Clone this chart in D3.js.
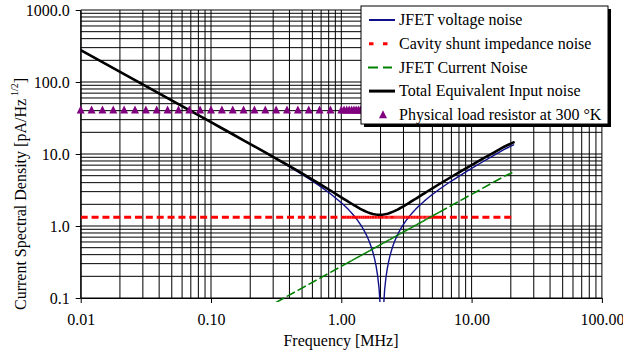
<!DOCTYPE html>
<html>
<head>
<meta charset="utf-8">
<script src="https://cdn.jsdelivr.net/npm/d3@7"></script>
<style>
  body { margin: 0; background: #fff; }
  svg { display: block; font-family: "Liberation Serif", "Times New Roman", serif; }
</style>
</head>
<body>
<svg id="chart" width="623" height="356"></svg>
<script>
// frequency points [MHz]
const freqMHz = [
  0.01, 0.01212, 0.01468, 0.01778, 0.02154, 0.0261, 0.03162, 0.03831, 0.04642, 0.05623, 0.06813, 0.08254,
  0.1, 0.1212, 0.1468, 0.1778, 0.2154, 0.261, 0.3162, 0.3831, 0.4642, 0.5623, 0.6813, 0.8254, 1.0,
  1.05, 1.1, 1.15, 1.2, 1.25, 1.3, 1.35, 1.4, 1.45, 1.5, 1.55, 1.6, 1.65, 1.7, 1.75, 1.8, 1.85, 1.9, 1.95, 2.0,
  2.05, 2.1, 2.15, 2.2, 2.25, 2.3, 2.35, 2.4, 2.45, 2.5, 2.55, 2.6, 2.65, 2.7, 2.75, 2.8, 2.85, 2.9, 2.95, 3.0,
  3.1, 3.2, 3.3, 3.4, 3.5, 3.6, 3.7, 3.8, 3.9, 4.0, 4.1, 4.2, 4.3, 4.4, 4.5, 4.6, 4.7, 4.8, 4.9, 5.0,
  5.62, 6.81, 8.25, 10, 12.1, 14.7, 17.8, 21
];

// JFET voltage noise (null = off scale, notch)
const jfetVoltage = [
  276.7, 228.3, 188.5, 155.6, 128.5, 106.0, 87.50, 72.21, 59.59, 49.18, 40.58, 33.48,
  27.61, 22.75, 18.76, 15.45, 12.71, 10.43, 8.544, 6.972, 5.656, 4.552, 3.613, 2.809, 2.109,
  1.944, 1.792, 1.649, 1.516, 1.391, 1.273, 1.161, 1.055, 0.954, 0.857, 0.765, 0.676, 0.591, 0.508, 0.429, 0.352, 0.278, 0.205, 0.135, 0.0667,
  null, 0.0651, 0.129, 0.191, 0.252, 0.311, 0.370, 0.427, 0.484, 0.539, 0.594, 0.648, 0.701, 0.753, 0.805, 0.856, 0.906, 0.955, 1.005, 1.053,
  1.149, 1.243, 1.335, 1.425, 1.514, 1.602, 1.689, 1.774, 1.859, 1.942, 2.025, 2.107, 2.188, 2.269, 2.348, 2.428, 2.506, 2.584, 2.662, 2.739,
  3.209, 4.078, 5.097, 6.309, 7.740, 9.492, 11.57, 13.4
];

// cavity shunt impedance noise
const cavityShunt = [
  1.32, 1.32, 1.32, 1.32, 1.32, 1.32, 1.32, 1.32, 1.32, 1.32, 1.32, 1.32,
  1.32, 1.32, 1.32, 1.32, 1.32, 1.32, 1.32, 1.32, 1.32, 1.32, 1.32, 1.32, 1.32,
  1.32, 1.32, 1.32, 1.32, 1.32, 1.32, 1.32, 1.32, 1.32, 1.32, 1.32, 1.32, 1.32, 1.32, 1.32, 1.32, 1.32, 1.32, 1.32, 1.32,
  1.32, 1.32, 1.32, 1.32, 1.32, 1.32, 1.32, 1.32, 1.32, 1.32, 1.32, 1.32, 1.32, 1.32, 1.32, 1.32, 1.32, 1.32, 1.32, 1.32,
  1.32, 1.32, 1.32, 1.32, 1.32, 1.32, 1.32, 1.32, 1.32, 1.32, 1.32, 1.32, 1.32, 1.32, 1.32, 1.32, 1.32, 1.32, 1.32, 1.32,
  1.32, 1.32, 1.32, 1.32, 1.32, 1.32, 1.32, 1.32
];

// JFET current noise
const jfetCurrent = [
  0.00275, 0.00333, 0.00404, 0.00489, 0.00592, 0.00718, 0.0087, 0.01054, 0.01277, 0.01546, 0.01874, 0.0227,
  0.0275, 0.0333, 0.0404, 0.0489, 0.0592, 0.0718, 0.087, 0.1054, 0.1277, 0.1546, 0.1874, 0.227, 0.275,
  0.289, 0.303, 0.316, 0.330, 0.344, 0.358, 0.371, 0.385, 0.399, 0.413, 0.426, 0.440, 0.454, 0.468, 0.481, 0.495, 0.509, 0.523, 0.536, 0.550,
  0.564, 0.578, 0.591, 0.605, 0.619, 0.633, 0.646, 0.660, 0.674, 0.688, 0.701, 0.715, 0.729, 0.743, 0.756, 0.770, 0.784, 0.798, 0.811, 0.825,
  0.853, 0.880, 0.908, 0.935, 0.963, 0.990, 1.018, 1.045, 1.073, 1.100, 1.128, 1.155, 1.183, 1.210, 1.238, 1.265, 1.293, 1.320, 1.348, 1.375,
  1.546, 1.873, 2.269, 2.750, 3.328, 4.043, 4.895, 5.65
];

// total equivalent input noise
const totalNoise = [
  276.7, 228.3, 188.5, 155.6, 128.5, 106.0, 87.51, 72.22, 59.60, 49.20, 40.60, 33.51,
  27.64, 22.79, 18.81, 15.51, 12.78, 10.51, 8.646, 7.097, 5.809, 4.742, 3.851, 3.112, 2.503,
  2.367, 2.246, 2.136, 2.037, 1.948, 1.868, 1.797, 1.733, 1.677, 1.627, 1.584, 1.547, 1.516, 1.490, 1.469, 1.453, 1.442, 1.434, 1.431, 1.431,
  1.435, 1.442, 1.452, 1.464, 1.479, 1.496, 1.515, 1.536, 1.559, 1.583, 1.608, 1.635, 1.663, 1.691, 1.721, 1.751, 1.782, 1.814, 1.846, 1.879,
  1.946, 2.015, 2.085, 2.156, 2.227, 2.300, 2.373, 2.446, 2.519, 2.593, 2.667, 2.741, 2.816, 2.890, 2.965, 3.039, 3.114, 3.188, 3.263, 3.337,
  3.799, 4.678, 5.733, 7.007, 8.527, 10.40, 12.63, 14.5
];

// physical load resistor at 300 K
const resistorNoise = [
  40.7, 40.7, 40.7, 40.7, 40.7, 40.7, 40.7, 40.7, 40.7, 40.7, 40.7, 40.7,
  40.7, 40.7, 40.7, 40.7, 40.7, 40.7, 40.7, 40.7, 40.7, 40.7, 40.7, 40.7, 40.7,
  40.7, 40.7, 40.7, 40.7, 40.7, 40.7, 40.7, 40.7, 40.7, 40.7, 40.7, 40.7, 40.7, 40.7, 40.7, 40.7, 40.7, 40.7, 40.7, 40.7,
  40.7, 40.7, 40.7, 40.7, 40.7, 40.7, 40.7, 40.7, 40.7, 40.7, 40.7, 40.7, 40.7, 40.7, 40.7, 40.7, 40.7, 40.7, 40.7, 40.7,
  40.7, 40.7, 40.7, 40.7, 40.7, 40.7, 40.7, 40.7, 40.7, 40.7, 40.7, 40.7, 40.7, 40.7, 40.7, 40.7, 40.7, 40.7, 40.7, 40.7,
  40.7, 40.7, 40.7, 40.7, 40.7, 40.7, 40.7, 40.7
];

const xTicks = [0.01, 0.1, 1, 10, 100];
const yTicks = [0.1, 1, 10, 100, 1000];
const legendLabels = [
  "JFET voltage noise",
  "Cavity shunt impedance noise",
  "JFET Current Noise",
  "Total Equivalent Input noise",
  "Physical load resistor at 300 \u00b0K"
];

const svg = d3.select("#chart");
const plotLeft = 80.7, plotRight = 601.9, plotTop = 10, plotBottom = 298;

const x = d3.scaleLog().domain([0.01, 100]).range([plotLeft, plotRight]);
const y = d3.scaleLog().domain([0.1, 1000]).range([plotBottom, plotTop]);

// grid, every 1..9 of each decade
const grid = svg.append("g").attr("stroke", "#000").attr("stroke-width", 1);
grid.selectAll(null).data(x.ticks()).join("line")
  .attr("x1", (d) => x(d)).attr("x2", (d) => x(d))
  .attr("y1", plotTop).attr("y2", plotBottom);
grid.selectAll(null).data(y.ticks()).join("line")
  .attr("y1", (d) => y(d)).attr("y2", (d) => y(d))
  .attr("x1", plotLeft).attr("x2", plotRight);

// axes
const yAxis = svg.append("g")
  .attr("transform", `translate(${plotLeft},0)`)
  .call(d3.axisLeft(y).tickValues(yTicks).tickFormat(d3.format(".1f")).tickSize(5).tickSizeOuter(0).tickPadding(6));
const xAxis = svg.append("g")
  .attr("transform", `translate(0,${plotBottom})`)
  .call(d3.axisBottom(x).tickValues(xTicks).tickFormat(d3.format(".2f")).tickSize(5).tickSizeOuter(0).tickPadding(11));
[yAxis, xAxis].forEach((g) => {
  g.attr("font-family", null).attr("font-size", 16);
  g.selectAll("path, line").attr("stroke", "#000");
  g.selectAll("text").attr("fill", "#000");
});

// axis titles
svg.append("text")
  .attr("x", 341).attr("y", 346)
  .attr("text-anchor", "middle").attr("font-size", 16)
  .text("Frequency [MHz]");

const yTitle = svg.append("text")
  .attr("transform", "translate(26,310) rotate(-90)")
  .attr("font-size", 16);
yTitle.append("tspan").text("Current Spectral Density [pA/Hz");
yTitle.append("tspan").attr("font-size", 10).attr("dy", -8).attr("dx", 3).text("1/2");
yTitle.append("tspan").attr("dy", 8).text("]");

// series
svg.append("clipPath").attr("id", "plotClip")
  .append("rect").attr("x", plotLeft).attr("y", plotTop)
  .attr("width", plotRight - plotLeft).attr("height", plotBottom - plotTop + 4);
const plot = svg.append("g").attr("clip-path", "url(#plotClip)");

function solidLine(values, color, width) {
  const line = d3.line()
    .defined((d) => d[1] != null)
    .x((d) => x(d[0]))
    .y((d) => y(d[1]));
  plot.append("path")
    .datum(freqMHz.map((f, i) => [f, values[i]]))
    .attr("fill", "none")
    .attr("stroke", color)
    .attr("stroke-width", width)
    .attr("stroke-linejoin", "round")
    .attr("stroke-linecap", "round")
    .attr("d", line);
}

// dash pattern restarts on each segment, as in the original
function dashedLine(values, color, width, dash) {
  const pts = freqMHz.map((f, i) => [x(f), y(values[i])]);
  plot.append("g").selectAll(null).data(d3.pairs(pts)).join("line")
    .attr("x1", (d) => d[0][0]).attr("y1", (d) => d[0][1])
    .attr("x2", (d) => d[1][0]).attr("y2", (d) => d[1][1])
    .attr("stroke", color)
    .attr("stroke-width", width)
    .attr("stroke-dasharray", dash);
}

const triangle = "M0,-4.5L4,3.5L-4,3.5Z";

solidLine(jfetVoltage, "#10108a", 1.4);
dashedLine(cavityShunt, "#ff0000", 3, "7,4");
dashedLine(jfetCurrent, "#008000", 1.6, "9,3");
solidLine(totalNoise, "#000", 2.6);

svg.append("g").selectAll(null).data(freqMHz).join("path")
  .attr("transform", (f, i) => `translate(${x(f)},${y(resistorNoise[i])})`)
  .attr("d", triangle)
  .attr("fill", "#800080");

// legend
const legend = svg.append("g");
legend.append("rect")
  .attr("x", 364).attr("y", 9).attr("width", 247).attr("height", 118)
  .attr("fill", "#000");
legend.append("rect")
  .attr("x", 361).attr("y", 6).attr("width", 247).attr("height", 118)
  .attr("fill", "#fff").attr("stroke", "#000").attr("stroke-width", 1);

const rowY = (i) => 20 + i * 23.7;
legendLabels.forEach((label, i) => {
  legend.append("text")
    .attr("x", 399).attr("y", rowY(i)).attr("dy", "0.32em")
    .attr("font-size", 16)
    .text(label);
});
const sample = (i, color, width, dash, x1, x2) =>
  legend.append("line")
    .attr("x1", x1).attr("x2", x2)
    .attr("y1", rowY(i)).attr("y2", rowY(i))
    .attr("stroke", color).attr("stroke-width", width)
    .attr("stroke-dasharray", dash);
sample(0, "#10108a", 2, null, 369, 395);
sample(1, "#ff0000", 3, "4.5,9.5", 369, 389);
sample(2, "#008000", 2, "10,5", 368, 392);
sample(3, "#000", 3, null, 369, 395);
legend.append("path")
  .attr("transform", `translate(383,${rowY(4)})`)
  .attr("d", triangle)
  .attr("fill", "#800080");
</script>
</body>
</html>
